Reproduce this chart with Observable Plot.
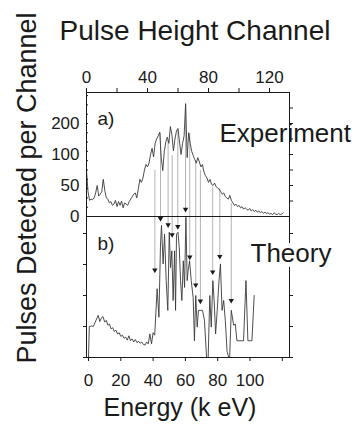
<!DOCTYPE html>
<html><head><meta charset="utf-8">
<script src="https://cdn.jsdelivr.net/npm/d3@7"></script>
<script src="https://cdn.jsdelivr.net/npm/@observablehq/plot@0.6"></script>
<style>
html,body{margin:0;padding:0;background:#fff;}
#chart svg{display:block;}
</style></head><body><div id="chart"></div>
<script>
// Experiment: counts per pulse-height channel (index = channel 0..129)
const expCounts = [
 74,40,26,28,27,30,38,50,33,36, 40,60,42,30,28,22,24,18,20,26,
 16,24,18,25,14,22,20,18,24,28, 32,36,38,30,45,60,55,62,75,84,
 80,86,100,110,96,118,125,130,136,95, 74,105,120,128,118,145,132,106,125,138,
 142,120,100,118,130,182,95,135,118,105, 98,92,86,95,88,80,84,72,66,62,
 55,60,52,50,54,48,46,44,40,36, 38,32,30,28,34,26,22,18,20,16,
 18,14,16,12,14,12,10,13,9,11, 8,10,7,9,6,8,5,7,5,6,
 4,5,3,6,4,3,5,3,4,6
];
// channel -> energy calibration
const keVPerChannel = 0.9443;
const keVAtChannel0 = -1.238;

// Theory spectrum (energy in keV, intensity in arbitrary units)
const theoryEnergy = [
 0,0.5,1,2,3,4,5,6,7,8,9,10,11,12,13,14,15,16,17,18,19,20,21,22,23,24,25,26,27,28,29,30,31,32,33,34,35,36,37,38,39,40,41,
 42.5,43.6,44.6,45.2,46.2,47.1,48.1,49.1,50.0,50.8,51.6,52.4,53.3,53.9,54.5,55.4,56.2,57.0,57.8,58.7,59.5,60.3,61.1,61.7,62.6,63.6,64.8,65.6,66.4,67.3,68.1,69.3,70.6,71.8,73.1,74.1,75.1,76.0,77.0,77.8,78.7,79.7,80.7,81.7,82.7,83.7,84.7,85.8,86.8,87.4,88.4,89.9,90.9,91.9,95.0,96.0,97.5,98.7,101.2,102.6
];
const theoryValue = [
 0,50,50,51,50,56,62,68,58,64,66,57,60,52,54,46,48,42,44,38,40,34,36,31,33,28,35,27,30,25,29,24,26,23,25,21,20,25,22,38,22,40,36,
 111,65,183,213,151,199,124,76,202,145,172,92,172,76,199,202,177,124,92,156,113,226,124,140,156,124,97,27,100,49,76,76,76,60,0,0,100,49,124,92,38,76,120,151,76,92,60,10,0,0,76,52,54,27,27,27,124,27,27,100
];

// Assignment lines: experiment peak -> theory peak
const linkEnergy = [41.1, 44.6, 49.3, 51.8, 55.3, 60.1, 62.7, 66.4, 69.3, 76.9, 81.3, 88.4];
const linkTop    = [74, 134, 123, 98, 139, 179, 134, 90, 74, 47, 45, 21];
const linkTip    = [141, 224, 214, 198, 211, 239, 162, 117, 91, 138, 163, 92];

// Ticks and labels
const energyTicks = [0,20,40,60,80,100,120];
const energyTickLabels = ["0","20","40","60","80","100",""];
const channelTicks = [0,20,40,60,80,100,120];
const channelTickLabels = ["0","","40","","80","","120"];
const countTicks = [0,50,100,150];
const countTickLabels = ["0","50","100","200"];
const countMinorTicks = [15,30,45,60,75,90,105,120,135,150,165,180,195];
const countRightTicks = [25,50,75,100,125,150,175];
const theoryTicks = [0,50,100,150,200];

const titleText = "Pulse Height Channel";
const yLabelText = "Pulses Detected per Channel";
const xLabelText = "Energy (k eV)";

const theoryBase = -227.4; // theory panel zero, in count-axis units

const expData = expCounts.map((v, c) => ({E: c * keVPerChannel + keVAtChannel0, v}));
const theoryData = theoryEnergy.map((E, i) => ({E, y: theoryValue[i] + theoryBase}));
const links = linkEnergy.map((E, i) => ({E, top: linkTop[i], tipY: linkTip[i] + theoryBase}));
const channelTickE = channelTicks.map(c => c * keVPerChannel + keVAtChannel0);

const ink = "#1a1a1a";
const font = "'Liberation Sans', Arial, Helvetica, sans-serif";

const chart = Plot.plot({
  width: 355, height: 428,
  marginLeft: 86, marginRight: 66, marginTop: 92, marginBottom: 71,
  x: {domain: [-1.24, 124.46]},
  y: {domain: [theoryBase, 200]},
  style: {fontFamily: font, background: "#fff", color: ink},
  marks: [
    Plot.ruleX(links, {x: "E", y1: "tipY", y2: "top", stroke: "#a0a0a0", strokeWidth: 0.8}),
    Plot.line(expData, {x: "E", y: "v", stroke: "#3a3a3a", strokeWidth: 0.9}),
    Plot.line(theoryData, {x: "E", y: "y", stroke: "#3a3a3a", strokeWidth: 0.9}),
    Plot.dot(links, {x: "E", y: "tipY", symbol: "triangle", rotate: 180, r: 2, fill: ink, stroke: null}),
    Plot.frame({stroke: ink}),
    Plot.ruleY([0], {stroke: ink}),
    Plot.axisX(energyTicks, {anchor: "bottom", tickSize: 4, tickPadding: 12, fontSize: 17, label: null,
      tickFormat: d => energyTickLabels[energyTicks.indexOf(d)]}),
    Plot.axisX(channelTickE, {anchor: "top", tickSize: 5, tickPadding: 5, fontSize: 17, label: null,
      tickFormat: d => channelTickLabels[channelTickE.indexOf(d)]}),
    Plot.axisY(countTicks, {anchor: "left", tickSize: 0, tickPadding: 7, fontSize: 17, label: null,
      tickFormat: d => countTickLabels[countTicks.indexOf(d)]}),
    Plot.axisY(theoryTicks.map(t => t + theoryBase), {anchor: "left", tickSize: 3, label: null, tickFormat: () => ""}),
    Plot.axisY(countRightTicks, {anchor: "right", tickSize: 3, label: null, tickFormat: () => ""}),
    Plot.axisY(theoryTicks.map(t => t + theoryBase), {anchor: "right", tickSize: 3, label: null, tickFormat: () => ""}),
    Plot.tickY(countMinorTicks, {insetRight: 201, stroke: ink}),
    Plot.text([titleText], {text: d => d, frameAnchor: "top", textAnchor: "middle", lineAnchor: "middle", dx: 7, dy: -61, fontSize: 28, fill: ink}),
    Plot.text([yLabelText], {text: d => d, frameAnchor: "left", textAnchor: "middle", lineAnchor: "middle", rotate: -90, dx: -59, dy: -37, fontSize: 27, fill: ink}),
    Plot.text([xLabelText], {text: d => d, frameAnchor: "bottom", textAnchor: "middle", lineAnchor: "middle", dx: -8, dy: 50, fontSize: 25, fill: ink}),
    Plot.text(["a)"], {text: d => d, frameAnchor: "top-left", textAnchor: "start", lineAnchor: "middle", dx: 11, dy: 26, fontSize: 19, fill: ink}),
    Plot.text(["b)"], {text: d => d, frameAnchor: "top-left", textAnchor: "start", lineAnchor: "middle", dx: 11, dy: 151, fontSize: 19, fill: ink}),
    Plot.text(["Experiment"], {text: d => d, frameAnchor: "top-left", textAnchor: "start", lineAnchor: "middle", dx: 133, dy: 41, fontSize: 26, fill: ink}),
    Plot.text(["Theory"], {text: d => d, frameAnchor: "top-left", textAnchor: "start", lineAnchor: "middle", dx: 164, dy: 161, fontSize: 26, fill: ink,
      stroke: "white", strokeWidth: 10, paintOrder: "stroke"})
  ]
});
document.getElementById("chart").appendChild(chart);
</script></body></html>
